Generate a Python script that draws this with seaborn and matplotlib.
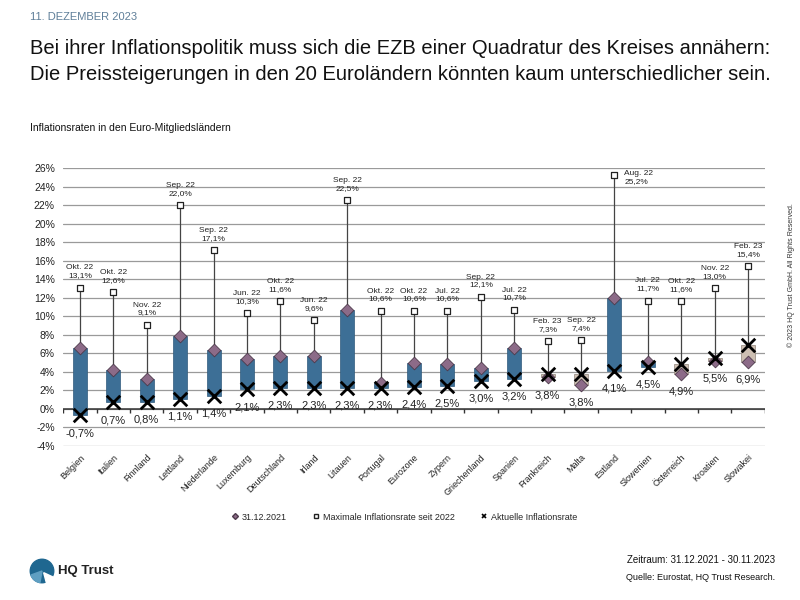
import numpy as np
import pandas as pd
import seaborn as sns
import matplotlib.pyplot as plt
from matplotlib.lines import Line2D
from matplotlib.patches import Circle, Wedge

# Daten
laender = ["Belgien", "Italien", "Finnland", "Lettland", "Niederlande", "Luxemburg",
           "Deutschland", "Irland", "Litauen", "Portugal", "Eurozone", "Zypern",
           "Griechenland", "Spanien", "Frankreich", "Malta", "Estland", "Slowenien",
           "Österreich", "Kroatien", "Slowakei"]
aktuell = [-0.7, 0.7, 0.8, 1.1, 1.4, 2.1, 2.3, 2.3, 2.3, 2.3, 2.4, 2.5,
           3.0, 3.2, 3.8, 3.8, 4.1, 4.5, 4.9, 5.5, 6.9]
dez_2021 = [6.6, 4.2, 3.2, 7.9, 6.4, 5.4, 5.7, 5.7, 10.7, 2.8, 5.0, 4.8,
            4.4, 6.6, 3.4, 2.6, 12.0, 5.1, 3.8, 5.2, 5.1]
maximum = [13.1, 12.6, 9.1, 22.0, 17.1, 10.3, 11.6, 9.6, 22.5, 10.6, 10.6, 10.6,
           12.1, 10.7, 7.3, 7.4, 25.2, 11.7, 11.6, 13.0, 15.4]
max_monat = ["Okt. 22", "Okt. 22", "Nov. 22", "Sep. 22", "Sep. 22", "Jun. 22",
             "Okt. 22", "Jun. 22", "Sep. 22", "Okt. 22", "Okt. 22", "Jul. 22",
             "Sep. 22", "Jul. 22", "Feb. 23", "Sep. 22", "Aug. 22", "Jul. 22",
             "Okt. 22", "Nov. 22", "Feb. 23"]

BLAU = "#3d6f96"
BEIGE = "#cdbfb2"

df = pd.DataFrame({"land": laender, "aktuell": aktuell, "dez_2021": dez_2021,
                   "maximum": maximum, "monat": max_monat})
df["pos"] = np.arange(len(df))
df["unten"] = df[["aktuell", "dez_2021"]].min(axis=1)
df["oben"] = df[["aktuell", "dez_2021"]].max(axis=1)
df["farbe"] = np.where(df["aktuell"] > df["dez_2021"], BEIGE, BLAU)
df["rand"] = np.where(df["aktuell"] > df["dez_2021"], "#8d8278", "#2f5a7c")


def pct(v):
    return f"{v:.1f}%".replace(".", ",")


sns.set_theme(style="white")
plt.rcParams["font.family"] = ["Liberation Sans", "DejaVu Sans"]

fig = plt.figure(figsize=(8, 6), dpi=100)
ax = fig.add_axes([0.079, 0.2567, 0.877, 0.4633])

# Raster und Achsen
ax.set_xlim(-0.5, len(df) - 0.5)
ax.set_ylim(-4, 26)
ax.set_yticks(range(-4, 27, 2))
ax.set_yticklabels([f"{v}%" for v in range(-4, 27, 2)], fontsize=7.5, color="#222222")
ax.yaxis.grid(True, color="#9a9a9a", lw=0.9)
ax.set_axisbelow(True)
for s in ax.spines.values():
    s.set_visible(False)
ax.tick_params(axis="y", length=0, pad=6)
ax.set_xticks(df["pos"])
ax.set_xticklabels(df["land"], rotation=45, ha="right", rotation_mode="anchor",
                   fontsize=6.5, color="#222222")
ax.tick_params(axis="x", length=0, pad=5)
ax.axhline(0, color="#333333", lw=1.1, zorder=1.5)
ax.vlines(np.arange(len(df) + 1) - 0.5, -0.4, 0, color="#333333", lw=1, zorder=1.5)

# Spanne bis zum Maximum
ax.vlines(df["pos"], df["unten"], df["maximum"], color="#444444", lw=0.9, zorder=2)

# Balken zwischen Dez. 2021 und aktuellem Wert
ax.bar(df["pos"], df["oben"] - df["unten"], bottom=df["unten"], width=0.42,
       color=df["farbe"], edgecolor=df["rand"], lw=0.5, zorder=3)

sns.scatterplot(data=df, x="pos", y="maximum", marker="s", s=20, color="white",
                edgecolor="#222222", linewidth=0.9, zorder=4, ax=ax)
sns.scatterplot(data=df, x="pos", y="dez_2021", marker="D", s=42, color="#8c6b88",
                edgecolor="#4d3a4b", linewidth=0.6, zorder=5, ax=ax)
sns.scatterplot(data=df, x="pos", y="aktuell", marker="x", s=95, color="black",
                linewidth=2, zorder=6, ax=ax)
ax.set_xlabel("")
ax.set_ylabel("")

# Beschriftungen
for _, r in df.iterrows():
    txt = f"{r['monat']}\n{pct(r['maximum'])}"
    if r["maximum"] + 3.5 > 26:
        ax.text(r["pos"] + 0.3, r["maximum"] - 0.2, txt, ha="left", va="center",
                fontsize=6, linespacing=1.15, color="#222222")
    else:
        ax.text(r["pos"], r["maximum"] + 0.9, txt, ha="center", va="bottom",
                fontsize=6, linespacing=1.15, color="#222222")
    ax.text(r["pos"], r["unten"] - 1.9, pct(r["aktuell"]), ha="center", va="center",
            fontsize=8, color="#222222")

# Legende
handles = [
    Line2D([], [], ls="", marker="D", ms=3, color="#8c6b88", mec="#4d3a4b"),
    Line2D([], [], ls="", marker="s", ms=3, mfc="white", mec="#222222"),
    Line2D([], [], ls="", marker="x", ms=3, mew=1.2, color="black"),
]
fig.legend(handles, ["31.12.2021", "Maximale Inflationsrate seit 2022", "Aktuelle Inflationsrate"],
           loc="center", bbox_to_anchor=(0.506, 1 - 517 / 600), ncol=3, frameon=False,
           fontsize=6.5, handlelength=0.6, handletextpad=0.4, columnspacing=3)

# Texte
fig.text(30 / 800, 1 - 17 / 600, "11. DEZEMBER 2023", color="#5f7f99", fontsize=8, va="center")
fig.text(30 / 800, 1 - 48 / 600,
         "Bei ihrer Inflationspolitik muss sich die EZB einer Quadratur des Kreises annähern:",
         fontsize=14.5, va="center", color="#111111")
fig.text(30 / 800, 1 - 75 / 600,
         "Die Preissteigerungen in den 20 Euroländern könnten kaum unterschiedlicher sein.",
         fontsize=14.5, va="center", color="#111111")
fig.text(30 / 800, 1 - 128 / 600, "Inflationsraten in den Euro-Mitgliedsländern",
         fontsize=7.5, va="center", color="#111111")
fig.text(775 / 800, 1 - 560 / 600, "Zeitraum: 31.12.2021 - 30.11.2023",
         fontsize=7, ha="right", va="center", color="#111111")
fig.text(775 / 800, 1 - 578 / 600, "Quelle: Eurostat, HQ Trust Research.",
         fontsize=6.5, ha="right", va="center", color="#111111")
fig.text(791 / 800, 1 - 275 / 600, "© 2023 HQ Trust GmbH. All Rights Reserved.",
         fontsize=5, rotation=90, ha="center", va="center", color="#333333")
fig.text(58 / 800, 1 - 571 / 600, "HQ Trust", fontsize=9.5, weight="bold",
         va="center", color="#222222")

# Logo
lax = fig.add_axes([28 / 800, 1 - 588 / 600, 28 / 800, 34 / 600])
lax.set_xlim(0, 1)
lax.set_ylim(0, 1)
lax.set_aspect("equal")
lax.axis("off")
lax.add_patch(Circle((0.5, 0.5), 0.42, color="#1f6790"))
lax.add_patch(Wedge((0.5, 0.5), 0.42, 200, 260, color="#5f9fc2"))
lax.add_patch(Wedge((0.56, 0.44), 0.46, 285, 335, color="white"))

fig.savefig("out.png", dpi=100)
